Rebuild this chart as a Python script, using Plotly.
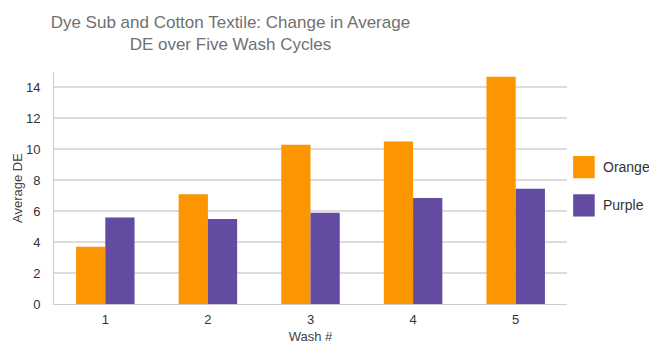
import plotly.graph_objects as go

washes = ["1", "2", "3", "4", "5"]
orange_vals = [3.7, 7.1, 10.3, 10.5, 14.7]
purple_vals = [5.6, 5.5, 5.9, 6.85, 7.45]
series_names = ["Orange", "Purple"]
y_ticks = [0, 2, 4, 6, 8, 10, 12, 14]

ORANGE = "#FB9500"
PURPLE = "#624BA0"

fig = go.Figure()
fig.add_trace(go.Bar(x=washes, y=orange_vals, name=series_names[0],
                     marker=dict(color=ORANGE, line=dict(width=0)), showlegend=False))
fig.add_trace(go.Bar(x=washes, y=purple_vals, name=series_names[1],
                     marker=dict(color=PURPLE, line=dict(width=0)), showlegend=False))

# manual legend (large squares)
for i, (nm, col) in enumerate(zip(series_names, [ORANGE, PURPLE])):
    yc = 0.59 - i * 0.165
    fig.add_shape(type="rect", xref="paper", yref="paper",
                  x0=1.012, x1=1.054, y0=yc - 0.048, y1=yc + 0.048,
                  fillcolor=col, line=dict(width=0))
    fig.add_annotation(xref="paper", yref="paper", x=1.066, y=yc, text=nm,
                       showarrow=False, xanchor="left", yanchor="middle",
                       font=dict(size=14, color="#333333"))

fig.update_layout(
    width=649, height=345,
    margin=dict(l=54, r=82, t=72, b=41),
    paper_bgcolor="white", plot_bgcolor="white",
    font=dict(family="Liberation Sans, Arial, sans-serif", color="#444444"),
    title=dict(text="Dye Sub and Cotton Textile: Change in Average<br>DE over Five Wash Cycles",
               x=0.355, xanchor="center", yref="container", y=0.918, yanchor="middle",
               font=dict(size=17, color="#707070")),
    barmode="group", bargap=0.43, bargroupgap=0,
    xaxis=dict(title=dict(text="Wash #", font=dict(size=13, color="#444444"), standoff=6),
               tickfont=dict(size=13, color="#333333"), showgrid=False,
               showline=True, linecolor="#cccccc", linewidth=1, ticks="",
               ticklabelstandoff=3, automargin=False),
    yaxis=dict(title=dict(text="Average DE", font=dict(size=13, color="#444444"), standoff=0),
               range=[0, 15], tickvals=y_ticks, tickfont=dict(size=13, color="#333333"),
               showgrid=True, gridcolor="#dcdcdc", gridwidth=1.5,
               showline=True, linecolor="#cccccc", linewidth=1, zeroline=False, ticks="",
               ticklabelstandoff=10, automargin=False),
)

fig.write_html("out.html")
